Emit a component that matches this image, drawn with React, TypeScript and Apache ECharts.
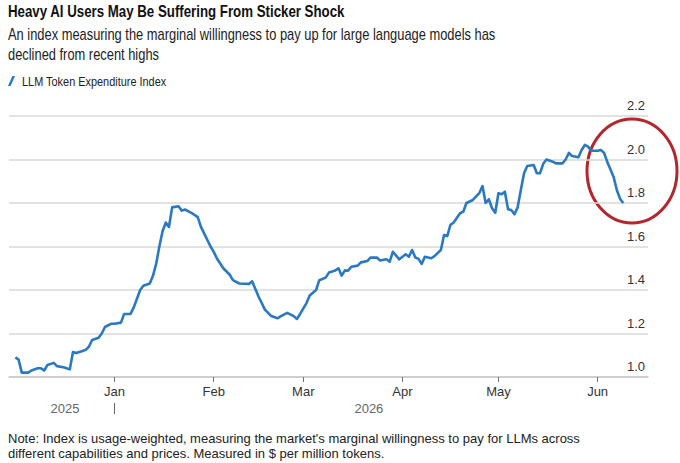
import { useEffect, useRef } from 'react';
import * as echarts from 'echarts';

// LLM Token Expenditure Index, daily readings
const dates = [
  '2025-12-01', '2025-12-02', '2025-12-03', '2025-12-05', '2025-12-06', '2025-12-08', '2025-12-09', '2025-12-10',
  '2025-12-11', '2025-12-13', '2025-12-14', '2025-12-16', '2025-12-17', '2025-12-18', '2025-12-19', '2025-12-20',
  '2025-12-22', '2025-12-23', '2025-12-24', '2025-12-25', '2025-12-27', '2025-12-28', '2025-12-29', '2025-12-31',
  '2026-01-01', '2026-01-03', '2026-01-04', '2026-01-06', '2026-01-07', '2026-01-08', '2026-01-09', '2026-01-10',
  '2026-01-12', '2026-01-13', '2026-01-14', '2026-01-15', '2026-01-16', '2026-01-17', '2026-01-18', '2026-01-19',
  '2026-01-21', '2026-01-22', '2026-01-23', '2026-01-25', '2026-01-27', '2026-01-28', '2026-01-31', '2026-02-01',
  '2026-02-02', '2026-02-04', '2026-02-06', '2026-02-07', '2026-02-09', '2026-02-12', '2026-02-13', '2026-02-15',
  '2026-02-17', '2026-02-19', '2026-02-21', '2026-02-22', '2026-02-24', '2026-02-26', '2026-02-27', '2026-02-28',
  '2026-03-02', '2026-03-03', '2026-03-05', '2026-03-06', '2026-03-08', '2026-03-09', '2026-03-11', '2026-03-12',
  '2026-03-13', '2026-03-14', '2026-03-15', '2026-03-16', '2026-03-18', '2026-03-19', '2026-03-21', '2026-03-22',
  '2026-03-24', '2026-03-25', '2026-03-27', '2026-03-28', '2026-03-29', '2026-03-31', '2026-04-02', '2026-04-03',
  '2026-04-04', '2026-04-05', '2026-04-06', '2026-04-07', '2026-04-08', '2026-04-10', '2026-04-11', '2026-04-13',
  '2026-04-14', '2026-04-15', '2026-04-16', '2026-04-17', '2026-04-19', '2026-04-20', '2026-04-21', '2026-04-23',
  '2026-04-25', '2026-04-26', '2026-04-27', '2026-04-28', '2026-04-29', '2026-04-30', '2026-05-01', '2026-05-02',
  '2026-05-03', '2026-05-04', '2026-05-05', '2026-05-06', '2026-05-07', '2026-05-08', '2026-05-09', '2026-05-10',
  '2026-05-12', '2026-05-13', '2026-05-14', '2026-05-15', '2026-05-16', '2026-05-18', '2026-05-19', '2026-05-21',
  '2026-05-22', '2026-05-23', '2026-05-24', '2026-05-26', '2026-05-27', '2026-05-28', '2026-05-29', '2026-05-30',
  '2026-06-01', '2026-06-02', '2026-06-03', '2026-06-04', '2026-06-06', '2026-06-07', '2026-06-08', '2026-06-09',
];

const tokenIndex = [
  1.09, 1.08, 1.02, 1.02, 1.03, 1.04, 1.04, 1.03,
  1.055, 1.065, 1.05, 1.045, 1.04, 1.035, 1.115, 1.11,
  1.12, 1.125, 1.14, 1.17, 1.18, 1.2, 1.23, 1.245,
  1.245, 1.25, 1.29, 1.29, 1.32, 1.36, 1.4, 1.42,
  1.43, 1.465, 1.52, 1.6, 1.67, 1.71, 1.69, 1.78,
  1.785, 1.765, 1.77, 1.755, 1.735, 1.69, 1.6, 1.575,
  1.545, 1.5, 1.47, 1.445, 1.43, 1.428, 1.44, 1.37,
  1.31, 1.28, 1.27, 1.28, 1.295, 1.28, 1.267, 1.29,
  1.34, 1.375, 1.4, 1.445, 1.457, 1.48, 1.49, 1.5,
  1.466, 1.49, 1.489, 1.507, 1.512, 1.527, 1.533, 1.549,
  1.549, 1.536, 1.541, 1.53, 1.576, 1.541, 1.564, 1.553,
  1.584, 1.55, 1.543, 1.52, 1.553, 1.546, 1.556, 1.584,
  1.653, 1.648, 1.7, 1.71, 1.753, 1.76, 1.8, 1.814,
  1.845, 1.878, 1.8, 1.817, 1.776, 1.755, 1.845, 1.84,
  1.852, 1.771, 1.768, 1.748, 1.78, 1.86, 1.937, 1.97,
  1.975, 1.937, 1.937, 1.98, 2.0, 1.99, 1.982, 1.982,
  2.0, 2.03, 2.016, 2.01, 2.044, 2.067, 2.059, 2.04,
  2.04, 2.044, 2.031, 1.99, 1.92, 1.86, 1.82, 1.8,
];

const xRange = ['2025-11-29', '2026-06-16 18:00'];
const monthTicks = ['2026-01-01', '2026-02-01', '2026-03-01', '2026-04-01', '2026-05-01', '2026-06-01'];
const monthLabels = ['Jan', 'Feb', 'Mar', 'Apr', 'May', 'Jun'];
const yearTicks = ['2025-12-16 12:00', '2026-03-21 12:00'];
const yearLabels = ['2025', '2026'];
const yearBreak = ['2026-01-01'];
const yRange = [1.0, 2.2];
const yStep = 0.2;

const SERIES_NAME = 'LLM Token Expenditure Index';
const TITLE = 'Heavy AI Users May Be Suffering From Sticker Shock';
const SUBTITLE =
  'An index measuring the marginal willingness to pay up for large language models has\ndeclined from recent highs';
const NOTE =
  "Note: Index is usage-weighted, measuring the market's marginal willingness to pay for LLMs across\ndifferent capabilities and prices. Measured in $ per million tokens.";

const SANS = '"Liberation Sans", Arial, sans-serif';
const BLUE = '#2a79c2';

// dates are placed on a plain numeric axis in milliseconds
const t = (s: string) => echarts.time.parse(s).getTime();

export default function App() {
  const ref = useRef<HTMLDivElement>(null);

  useEffect(() => {
    if (!ref.current) return;
    const chart = echarts.init(ref.current, undefined, { renderer: 'svg' });

    const monthTimes = monthTicks.map(t);
    const yearTimes = yearTicks.map(t);

    const baseX = {
      type: 'value' as const,
      min: t(xRange[0]),
      max: t(xRange[1]),
      gridIndex: 0,
      position: 'bottom' as const,
      splitLine: { show: false },
    };

    chart.setOption({
      animation: false,
      backgroundColor: '#ffffff',
      title: {
        text: NOTE,
        left: 8,
        top: 431,
        padding: 0,
        textStyle: { fontFamily: SANS, fontSize: 13, fontWeight: 'normal', lineHeight: 15, color: '#222' },
      },
      grid: { left: 9, right: 32, top: 116, bottom: 86, containLabel: false },
      xAxis: [
        {
          ...baseX,
          axisLine: { show: true, lineStyle: { color: '#c9c9c9', width: 1.5 } },
          axisTick: { show: true, customValues: monthTimes, length: 5, lineStyle: { color: '#777', width: 1 } },
          axisLabel: {
            customValues: monthTimes,
            margin: 8,
            fontFamily: SANS,
            fontSize: 13,
            color: '#333',
            formatter: (v: number) => monthLabels[monthTimes.indexOf(v)] ?? '',
          },
        },
        {
          ...baseX,
          offset: 20,
          axisLine: { show: false },
          axisTick: { show: false },
          axisLabel: {
            customValues: yearTimes,
            margin: 5,
            fontFamily: SANS,
            fontSize: 13,
            color: '#666',
            formatter: (v: number) => yearLabels[yearTimes.indexOf(v)] ?? '',
          },
        },
        {
          ...baseX,
          offset: 26,
          axisLine: { show: false },
          axisTick: { show: true, customValues: yearBreak.map(t), length: 11, lineStyle: { color: '#666', width: 1 } },
          axisLabel: { show: false },
        },
      ],
      yAxis: {
        type: 'value',
        position: 'right',
        min: yRange[0],
        max: yRange[1],
        interval: yStep,
        axisLine: { show: false },
        axisTick: { show: false },
        splitLine: { show: true, lineStyle: { color: '#d9d9d9', width: 1.5 } },
        axisLabel: {
          inside: true,
          margin: 3,
          verticalAlign: 'bottom',
          padding: [0, 0, 4, 0],
          fontFamily: SANS,
          fontSize: 13,
          color: '#333',
          formatter: (v: number) => v.toFixed(1),
        },
      },
      series: [
        {
          name: SERIES_NAME,
          type: 'line',
          xAxisIndex: 0,
          showSymbol: false,
          symbol: 'none',
          color: BLUE,
          lineStyle: { color: BLUE, width: 2.6, join: 'round' },
          data: dates.map((d, i) => [t(d), tokenIndex[i]]),
        },
      ],
      graphic: [
        // headline and deck, set in a condensed cut
        {
          type: 'text',
          x: 8,
          y: 4,
          scaleX: 0.83,
          silent: true,
          style: {
            text: TITLE,
            font: `bold 16px ${SANS}`,
            fill: '#111',
            align: 'left',
            verticalAlign: 'top',
          },
        },
        {
          type: 'text',
          x: 8,
          y: 25,
          scaleX: 0.805,
          silent: true,
          style: {
            text: SUBTITLE,
            font: `16px ${SANS}`,
            lineHeight: 20,
            fill: '#222',
            align: 'left',
            verticalAlign: 'top',
          },
        },
        // series key: slanted stroke plus name
        {
          type: 'polygon',
          silent: true,
          shape: { points: [[8, 86], [10.6, 86], [15, 76], [12.4, 76]] },
          style: { fill: BLUE },
        },
        {
          type: 'text',
          x: 22,
          y: 81.5,
          scaleX: 0.84,
          silent: true,
          style: {
            text: SERIES_NAME,
            font: `13px ${SANS}`,
            fill: '#222',
            align: 'left',
            verticalAlign: 'middle',
          },
        },
        // callout ring around the latest decline
        {
          type: 'ellipse',
          shape: { cx: 632, cy: 171, rx: 45, ry: 52 },
          style: { fill: 'none', stroke: '#b3262c', lineWidth: 3 },
          silent: true,
        },
      ],
    });

    return () => chart.dispose();
  }, []);

  return <div ref={ref} style={{ position: 'fixed', left: 0, top: 0, width: 680, height: 463 }} />;
}
